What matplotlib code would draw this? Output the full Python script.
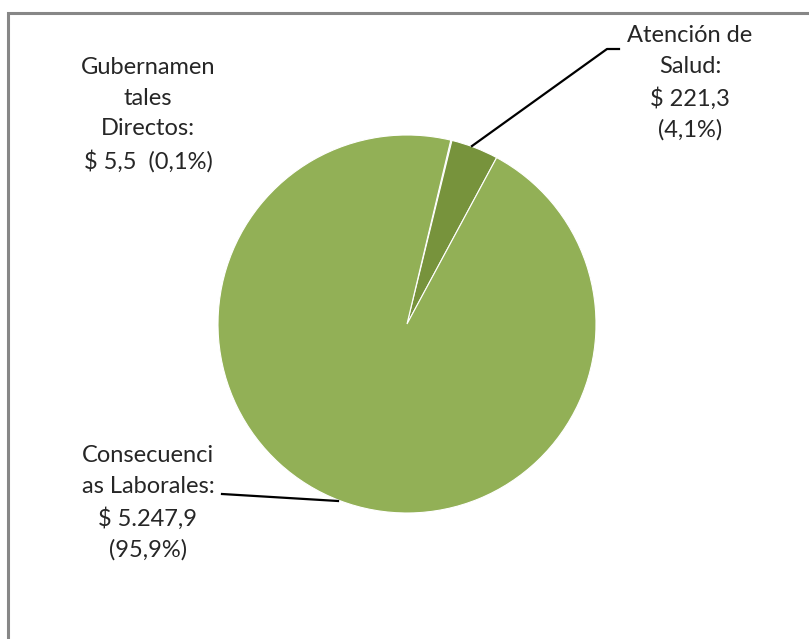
import matplotlib.pyplot as plt
from matplotlib.patches import Rectangle

# datos del grafico (millones de $)
categorias = ["Gubernamentales Directos", "Atención de Salud", "Consecuencias Laborales"]
valores = [5.5, 221.3, 5247.9]
colores = ["#92B056", "#77933C", "#92B056"]
etiquetas = [
    "Gubernamen\ntales\nDirectos:\n$ 5,5  (0,1%)",
    "Atención de\nSalud:\n$ 221,3\n(4,1%)",
    "Consecuenci\nas Laborales:\n$ 5.247,9\n(95,9%)",
]

plt.rcParams['font.family'] = ['Lato', 'DejaVu Sans']

W, H = 809, 639


def py(y):
    # coordenada vertical en pixeles desde arriba
    return H - y


fig = plt.figure(figsize=(8.09, 6.39), dpi=100)
ax = fig.add_axes([0, 0, 1, 1])
ax.axis('off')

# marco del area del grafico
ax.add_patch(Rectangle((8, py(13) - 650), 820, 650, fill=False, edgecolor='#878787', linewidth=2.2))

wedges, _ = ax.pie(valores, colors=colores, startangle=76.6, counterclock=False,
                   center=(407, py(324)), radius=189,
                   wedgeprops=dict(edgecolor='white', linewidth=0.8))
ax.set_xlim(0, W)
ax.set_ylim(0, H)
ax.set_aspect('equal')

# etiquetas
estilo = dict(ha='center', va='center', fontsize=17, color='#262626', linespacing=1.55)
ax.text(148, py(115), etiquetas[0], **estilo)
ax.text(690, py(83), etiquetas[1], **estilo)
ax.text(148, py(503), etiquetas[2], **estilo)

# lineas guia
ax.plot([472, 607, 619], [py(146), py(49), py(49)], color='black', linewidth=1.6)
ax.plot([222, 338], [py(494), py(501)], color='black', linewidth=1.6)

fig.savefig("out.png", dpi=100)
